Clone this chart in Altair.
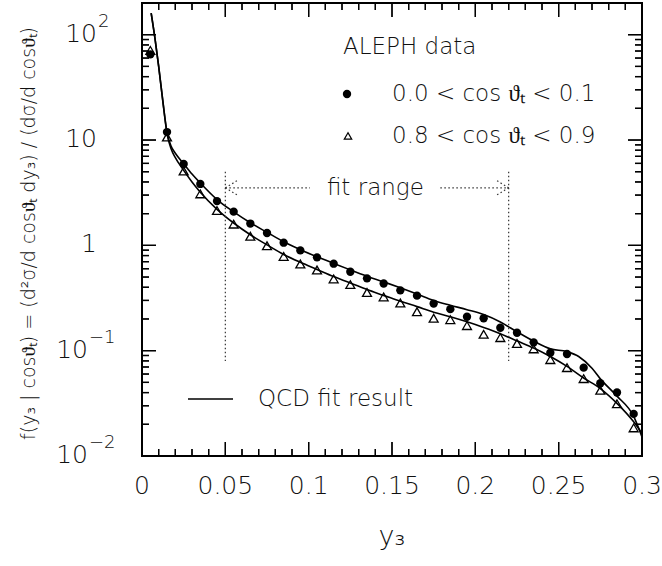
import math
import altair as alt
import pandas as pd

# ---------------- data ----------------
bin_x = [0.005, 0.015, 0.025, 0.035, 0.045, 0.055, 0.065, 0.075, 0.085, 0.095,
         0.105, 0.115, 0.125, 0.135, 0.145, 0.155, 0.165, 0.175, 0.185, 0.195,
         0.205, 0.215, 0.225, 0.235, 0.245, 0.255, 0.265, 0.275, 0.285, 0.295]

circle_vals = [65.0, 11.9, 5.92, 3.83, 2.63, 2.09, 1.61, 1.31, 1.06, 0.896,
               0.769, 0.670, 0.562, 0.486, 0.434, 0.374, 0.333, 0.280, 0.248, 0.210,
               0.203, 0.165, 0.148, 0.120, 0.0957, 0.0929, 0.0690, 0.0491, 0.0401, 0.0251]

triangle_vals = [71.0, 10.7, 5.08, 3.08, 2.14, 1.59, 1.22, 0.991, 0.785, 0.665,
                 0.583, 0.480, 0.424, 0.357, 0.324, 0.284, 0.234, 0.203, 0.197, 0.173,
                 0.143, 0.133, 0.117, 0.104, 0.0822, 0.0690, 0.0543, 0.0421, 0.0313, 0.0185]

fit_x_a = [0.0055, 0.008, 0.010, 0.0125, 0.015, 0.0175, 0.020, 0.025, 0.030, 0.035,
           0.045, 0.055, 0.065, 0.075, 0.085, 0.095, 0.105, 0.115, 0.125, 0.135,
           0.145, 0.155, 0.165, 0.175, 0.185, 0.195, 0.205, 0.215, 0.225, 0.235,
           0.245, 0.255, 0.262, 0.270, 0.275, 0.285, 0.295, 0.300]
fit_y_a = [160, 87, 50, 23.4, 11.9, 8.7, 7.5, 5.95, 4.75, 3.9,
           2.72, 2.08, 1.64, 1.33, 1.08, 0.91, 0.78, 0.675, 0.585, 0.51,
           0.45, 0.395, 0.345, 0.30, 0.27, 0.245, 0.22, 0.187, 0.151, 0.123,
           0.104, 0.098, 0.088, 0.068, 0.054, 0.037, 0.0238, 0.0152]

fit_x_b = [0.0055, 0.008, 0.010, 0.0125, 0.015, 0.0175, 0.020, 0.025, 0.030, 0.035,
           0.045, 0.055, 0.065, 0.075, 0.085, 0.095, 0.105, 0.115, 0.125, 0.135,
           0.145, 0.155, 0.165, 0.175, 0.185, 0.195, 0.205, 0.215, 0.225, 0.235,
           0.245, 0.255, 0.265, 0.275, 0.285, 0.295, 0.300]
fit_y_b = [160, 87, 50, 23.4, 11.5, 8.2, 6.8, 5.15, 4.0, 3.2,
           2.2, 1.63, 1.26, 1.01, 0.82, 0.69, 0.59, 0.505, 0.44, 0.38,
           0.335, 0.295, 0.262, 0.232, 0.21, 0.188, 0.166, 0.145, 0.124, 0.106,
           0.088, 0.071, 0.055, 0.0437, 0.0316, 0.0211, 0.0164]

# fit-range annotation (data coordinates)
fit_range_x = [0.05, 0.22]
fit_range_y = [5.0, 0.08]
arrow_y = 3.52
arrow_gap_x = [0.1008, 0.179]
head_dx = 0.0075
head_fy = 1.18
fit_label_x = 0.14

# axis ticks / labels
x_domain = [0, 0.3]
y_domain = [0.01, 200]
x_label_values = [0, 0.05, 0.1, 0.15, 0.2, 0.25, 0.3]
x_minor_values = [0.01, 0.02, 0.03, 0.04, 0.06, 0.07, 0.08, 0.09,
                  0.11, 0.12, 0.13, 0.14, 0.16, 0.17, 0.18, 0.19,
                  0.21, 0.22, 0.23, 0.24, 0.26, 0.27, 0.28, 0.29]
y_major_values = [0.01, 0.1, 1, 10, 100]
y_minor_values = [0.02, 0.03, 0.04, 0.05, 0.06, 0.07, 0.08, 0.09,
                  0.2, 0.3, 0.4, 0.5, 0.6, 0.7, 0.8, 0.9,
                  2, 3, 4, 5, 6, 7, 8, 9,
                  20, 30, 40, 50, 60, 70, 80, 90, 200]
ylab_base = ["10", "10", "1", "10", "10"]
ylab_exp = ["\u22122", "\u22121", "", "", "2"]

legend_title = "ALEPH data"
legend_labels = ["0.0 < cos \u03d1\u209c < 0.1", "0.8 < cos \u03d1\u209c < 0.9"]
fit_legend = "QCD fit result"
fit_range_text = "fit range"
x_title = "y\u2083"
y_title = "f(y\u2083 | cos\u03d1\u209c) = (d\u00b2\u03c3/d cos\u03d1\u209c dy\u2083) / (d\u03c3/d cos\u03d1\u209c)"

# ---------------- styling ----------------
FONT = "DejaVu Sans"
FW = 200
TXT = "#111111"
W, H = 500, 453
MAJ, MIN = 14, 7   # tick lengths in pixels

xscale = alt.Scale(domain=x_domain, nice=False, zero=False)
yscale = alt.Scale(type="log", domain=y_domain, nice=False)

hidden_axis = dict(labels=False, ticks=False, domain=False, grid=False, title=None)

# ---------------- tables ----------------
fit_df = pd.concat([
    pd.DataFrame({"x": fit_x_a, "y": fit_y_a, "series": "a"}),
    pd.DataFrame({"x": fit_x_b, "y": fit_y_b, "series": "b"}),
])
circ_df = pd.DataFrame({"x": bin_x, "y": circle_vals})
tri_df = pd.DataFrame({"x": bin_x, "y": triangle_vals})

segs = []
for fx in fit_range_x:
    segs.append((fx, fit_range_y[0], fx, fit_range_y[1]))
segs.append((fit_range_x[0], arrow_y, arrow_gap_x[0], arrow_y))
segs.append((arrow_gap_x[1], arrow_y, fit_range_x[1], arrow_y))
segs.append((fit_range_x[0], arrow_y, fit_range_x[0] + head_dx, arrow_y * head_fy))
segs.append((fit_range_x[0], arrow_y, fit_range_x[0] + head_dx, arrow_y / head_fy))
segs.append((fit_range_x[1], arrow_y, fit_range_x[1] - head_dx, arrow_y * head_fy))
segs.append((fit_range_x[1], arrow_y, fit_range_x[1] - head_dx, arrow_y / head_fy))
seg_df = pd.DataFrame(segs, columns=["x1", "y1", "x2", "y2"])

# inward tick segments on all four sides, expressed in data units
x_per_px = (x_domain[1] - x_domain[0]) / W
dec_per_px = math.log10(y_domain[1] / y_domain[0]) / H
ticks = []
for vals, ln in ((x_label_values, MAJ), (x_minor_values, MIN)):
    f = 10 ** (ln * dec_per_px)
    for v in vals:
        ticks.append((v, y_domain[0], v, y_domain[0] * f))
        ticks.append((v, y_domain[1], v, y_domain[1] / f))
for vals, ln in ((y_major_values, MAJ), (y_minor_values, MIN)):
    d = ln * x_per_px
    for v in vals:
        ticks.append((x_domain[0], v, x_domain[0] + d, v))
        ticks.append((x_domain[1], v, x_domain[1] - d, v))
tick_df = pd.DataFrame(ticks, columns=["tx1", "ty1", "tx2", "ty2"])

# the same tick segments as two-point polylines (second, independent drawing)
tick_long = []
for i, (a, b, c, d) in enumerate(ticks):
    tick_long.append({"id": i, "k": 0, "px": a, "py": b})
    tick_long.append({"id": i, "k": 1, "px": c, "py": d})
tick_long_df = pd.DataFrame(tick_long)

ylab_df = pd.DataFrame({"v": y_major_values, "base": ylab_base, "exp": ylab_exp})
xlab_df = pd.DataFrame({"xv": x_label_values})
one = pd.DataFrame({"k": [0]})

# ---------------- layers ----------------
tick_rules = alt.Chart(tick_df).mark_rule(color="black", strokeWidth=1.3).encode(
    x=alt.X("tx1:Q", scale=xscale, axis=alt.Axis(**hidden_axis)),
    y=alt.Y("ty1:Q", scale=yscale, axis=alt.Axis(**hidden_axis)),
    x2="tx2:Q",
    y2="ty2:Q",
)

tick_lines = alt.Chart(tick_long_df).mark_line(color="black", strokeWidth=1.3).encode(
    x=alt.X("px:Q", scale=xscale, axis=None),
    y=alt.Y("py:Q", scale=yscale, axis=None),
    detail="id:N",
    order="k:Q",
)

lines = alt.Chart(fit_df).mark_line(color="black", strokeWidth=1.6,
                                    interpolate="monotone", clip=True).encode(
    x=alt.X("x:Q", scale=xscale, axis=None),
    y=alt.Y("y:Q", scale=yscale, axis=None),
    detail="series:N",
)

circles = alt.Chart(circ_df).mark_point(shape="circle", filled=True, size=70,
                                        color="black", opacity=1).encode(
    x=alt.X("x:Q", scale=xscale, axis=None),
    y=alt.Y("y:Q", scale=yscale, axis=None),
)

triangles = alt.Chart(tri_df).mark_point(shape="triangle-up", filled=False, size=80,
                                         stroke="black", strokeWidth=1.3,
                                         opacity=1).encode(
    x=alt.X("x:Q", scale=xscale, axis=None),
    y=alt.Y("y:Q", scale=yscale, axis=None),
)

fitrange_rules = alt.Chart(seg_df).mark_rule(color="#333333", strokeWidth=1.2,
                                             strokeDash=[1.5, 2.5]).encode(
    x=alt.X("x1:Q", scale=xscale, axis=None),
    y=alt.Y("y1:Q", scale=yscale, axis=None),
    x2="x2:Q",
    y2="y2:Q",
)

fitrange_text = alt.Chart(pd.DataFrame({"x": [fit_label_x], "y": [arrow_y], "t": [fit_range_text]})).mark_text(
    font=FONT, fontSize=23, fontWeight=FW, color=TXT, align="center", baseline="middle").encode(
    x=alt.X("x:Q", scale=xscale, axis=None),
    y=alt.Y("y:Q", scale=yscale, axis=None),
    text="t:N",
)

# x-axis tick labels and titles
x_labels = alt.Chart(xlab_df).mark_text(
    font=FONT, fontSize=25, fontWeight=FW, color=TXT, align="center", baseline="top").encode(
    x=alt.X("xv:Q", scale=xscale, axis=None),
    y=alt.value(H + 18),
    text=alt.Text("xv:Q", format="~g"),
)
x_title_mark = alt.Chart(one).mark_text(
    font=FONT, fontSize=27, fontWeight=FW, color=TXT, align="center", baseline="top").encode(
    x=alt.value(W / 2), y=alt.value(H + 68), text=alt.value(x_title))
y_title_mark = alt.Chart(one).mark_text(
    font=FONT, fontSize=19, fontWeight=FW, color=TXT, align="center", baseline="middle",
    angle=270).encode(
    x=alt.value(-113), y=alt.value(H / 2 + 4), text=alt.value(y_title))

# y-axis labels (10 with superscript exponents)
ylab_common = dict(y=alt.Y("v:Q", scale=yscale, axis=None))
neg = "indexof(datum.exp, '\u2212') >= 0"
pos = "indexof(datum.exp, '\u2212') < 0"
base_pos = alt.Chart(ylab_df).transform_filter(pos).mark_text(
    font=FONT, fontSize=25, fontWeight=FW, color=TXT, align="right", baseline="middle", dy=-1).encode(
    x=alt.value(-45), text="base:N", **ylab_common)
base_neg = alt.Chart(ylab_df).transform_filter(neg).mark_text(
    font=FONT, fontSize=25, fontWeight=FW, color=TXT, align="right", baseline="middle", dy=-1).encode(
    x=alt.value(-54), text="base:N", **ylab_common)
exp_pos = alt.Chart(ylab_df).transform_filter(pos).mark_text(
    font=FONT, fontSize=18, fontWeight=FW, color=TXT, align="left", baseline="middle", dy=-13).encode(
    x=alt.value(-44), text="exp:N", **ylab_common)
exp_neg = alt.Chart(ylab_df).transform_filter(neg).mark_text(
    font=FONT, fontSize=18, fontWeight=FW, color=TXT, align="left", baseline="middle", dy=-13).encode(
    x=alt.value(-53), text="exp:N", **ylab_common)


# legend (drawn in the plot, like the original)
def ltext(txt, x, y):
    return alt.Chart(one).mark_text(font=FONT, fontSize=23, fontWeight=FW, color=TXT,
                                    align="left", baseline="middle").encode(
        x=alt.value(x), y=alt.value(y), text=alt.value(txt))


leg_circle = alt.Chart(one).mark_point(shape="circle", filled=True, size=70,
                                       color="black", opacity=1).encode(
    x=alt.value(205), y=alt.value(91))
leg_tri = alt.Chart(one).mark_point(shape="triangle-up", filled=False, size=55,
                                    stroke="black", strokeWidth=1.2, opacity=1).encode(
    x=alt.value(206), y=alt.value(133))
leg_line = alt.Chart(one).mark_rule(color="black", strokeWidth=1.4).encode(
    x=alt.value(46), x2=alt.value(91), y=alt.value(396))

chart = alt.layer(
    tick_rules, lines, circles, triangles, fitrange_rules, fitrange_text,
    x_labels, x_title_mark, y_title_mark,
    base_pos, base_neg, exp_pos, exp_neg,
    ltext(legend_title, 201, 44), leg_circle, ltext(legend_labels[0], 250, 91),
    leg_tri, ltext(legend_labels[1], 250, 133), leg_line,
    ltext(fit_legend, 116, 396),
    tick_lines,
).properties(
    width=W, height=H,
    padding={"left": 142, "top": 3, "right": 20, "bottom": 110},
    autosize=alt.AutoSizeParams(type="none"),
    background="white",
).configure_view(stroke="black", strokeWidth=2)

chart.save("out.html", embed_options={"renderer": "svg", "actions": False})
